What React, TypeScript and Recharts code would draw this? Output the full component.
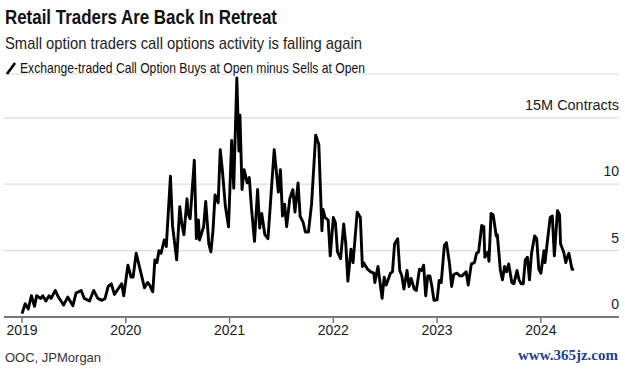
import React from 'react'
import { LineChart, Line, XAxis, YAxis, CartesianGrid } from 'recharts'

// weekly readings, decimal year -> million contracts (buys at open minus sells at open)
const years = [
  2019.0, 2019.03, 2019.06, 2019.09, 2019.12, 2019.14, 2019.18, 2019.2, 2019.23, 2019.26,
  2019.28, 2019.32, 2019.35, 2019.4, 2019.44, 2019.49, 2019.52, 2019.57, 2019.6, 2019.65,
  2019.69, 2019.73, 2019.77, 2019.8, 2019.83, 2019.86, 2019.89, 2019.96, 2019.98,
  2020.02, 2020.05, 2020.07, 2020.1, 2020.18, 2020.21, 2020.23, 2020.26, 2020.28, 2020.3,
  2020.32, 2020.34, 2020.37, 2020.39, 2020.43, 2020.45, 2020.49, 2020.52, 2020.54, 2020.56,
  2020.59, 2020.6, 2020.62, 2020.66, 2020.68, 2020.7, 2020.71, 2020.75, 2020.77, 2020.8,
  2020.82, 2020.84, 2020.86, 2020.89, 2020.91, 2020.93, 2020.96, 2020.99,
  2021.02, 2021.04, 2021.07, 2021.09, 2021.1, 2021.12, 2021.14, 2021.17, 2021.19, 2021.21,
  2021.24, 2021.27, 2021.29, 2021.31, 2021.34, 2021.37, 2021.43, 2021.47, 2021.49, 2021.51,
  2021.53, 2021.55, 2021.58, 2021.61, 2021.63, 2021.66, 2021.68, 2021.71, 2021.73, 2021.76,
  2021.79, 2021.83, 2021.86, 2021.89, 2021.9, 2021.92, 2021.95, 2021.97,
  2022.0, 2022.02, 2022.04, 2022.07, 2022.1, 2022.12, 2022.14, 2022.17, 2022.19, 2022.23,
  2022.26, 2022.28, 2022.29, 2022.33, 2022.36, 2022.39, 2022.4, 2022.43, 2022.47, 2022.49,
  2022.51, 2022.55, 2022.57, 2022.59, 2022.62, 2022.64, 2022.66, 2022.68, 2022.71, 2022.73,
  2022.75, 2022.78, 2022.8, 2022.83, 2022.85, 2022.87, 2022.89, 2022.91, 2022.93, 2022.95,
  2022.97,
  2023.0, 2023.02, 2023.04, 2023.07, 2023.09, 2023.12, 2023.14, 2023.16, 2023.19, 2023.22,
  2023.24, 2023.28, 2023.3, 2023.33, 2023.36, 2023.38, 2023.4, 2023.43, 2023.45, 2023.46,
  2023.49, 2023.5, 2023.52, 2023.54, 2023.57, 2023.58, 2023.61, 2023.63, 2023.65, 2023.67,
  2023.69, 2023.72, 2023.74, 2023.77, 2023.79, 2023.81, 2023.83, 2023.85, 2023.87, 2023.89,
  2023.91, 2023.94, 2023.96, 2023.98,
  2024.0, 2024.03, 2024.04, 2024.06, 2024.09, 2024.11, 2024.13, 2024.16, 2024.18, 2024.19,
  2024.22, 2024.24, 2024.25, 2024.27, 2024.3, 2024.32,
]

const contracts = [
  0.25, 1.0, 0.6, 1.6, 0.8, 1.6, 1.4, 1.6, 1.2, 1.6,
  1.4, 2.0, 1.5, 0.9, 1.5, 0.85, 1.8, 2.0, 1.4, 1.2,
  2.0, 1.4, 1.25, 1.4, 2.3, 2.5, 1.7, 2.5, 1.6,
  3.9, 3.0, 3.0, 4.8, 2.2, 2.6, 2.4, 1.9, 4.3, 4.1,
  5.0, 4.8, 5.8, 5.3, 10.6, 6.9, 4.3, 8.3, 7.0, 6.2,
  8.9, 7.8, 7.4, 11.8, 5.9, 7.3, 5.8, 6.8, 8.7, 5.5,
  4.9, 6.5, 9.2, 8.6, 12.6, 11.1, 8.3, 6.8,
  13.3, 9.7, 18.0, 12.5, 15.2, 9.6, 11.1, 10.1, 10.5, 8.3,
  5.7, 9.6, 6.7, 7.8, 6.2, 5.9, 12.6, 9.4, 11.1, 7.6,
  8.5, 6.8, 8.9, 9.6, 7.9, 10.1, 7.6, 7.1, 6.4, 6.4,
  8.5, 13.7, 13.0, 6.5, 8.1, 7.5, 7.3, 4.6,
  7.5, 7.1, 4.9, 4.4, 7.0, 5.5, 2.7, 5.1, 4.1, 7.9,
  7.5, 3.8, 4.1, 3.6, 3.4, 3.3, 2.6, 3.8, 1.4, 3.0,
  2.4, 3.3, 3.4, 5.5, 5.9, 3.5, 3.1, 2.1, 3.5, 2.3,
  2.9, 2.1, 2.0, 3.6, 3.5, 3.9, 1.6, 3.1, 3.1, 2.3,
  1.25,
  1.3, 2.75, 2.6, 5.4, 5.6, 4.0, 2.3, 3.2, 3.3, 3.1,
  3.1, 3.4, 2.4, 4.0, 4.1, 4.8, 4.9, 6.9, 6.8, 4.5,
  4.9, 4.2, 7.8, 7.7, 6.1, 6.2, 3.5, 2.8, 3.8, 3.4,
  4.0, 2.6, 2.5, 3.5, 2.8, 2.5, 2.5, 4.3, 4.5, 2.8,
  4.8, 6.1, 5.9, 3.6,
  3.3, 5.0, 4.1, 5.5, 7.5, 7.6, 4.6, 8.0, 7.7, 5.5,
  4.9, 4.1, 4.4, 4.8, 3.6, 3.6,
]

const yearTicks = [2019, 2020, 2021, 2022, 2023, 2024]
const valueTicks = [0, 5, 10, 15]

const data = years.map((t, i) => ({ t, v: contracts[i] }))

const FONT = "'Liberation Sans', Arial, sans-serif"

function ValueTick(props: any) {
  const { x, y, payload } = props
  const top = payload.value === 15
  return (
    <text
      x={x}
      y={y - 8}
      textAnchor="end"
      fill="#1a1a1a"
      fontSize={14}
      fontFamily={FONT}
      textLength={top ? 94 : undefined}
      lengthAdjust="spacingAndGlyphs"
    >
      {top ? '15M Contracts' : String(payload.value)}
    </text>
  )
}

export default function App() {
  return (
    <div style={{ position: 'absolute', left: 0, top: 0, width: 625, height: 378, background: '#fff' }}>
      <div style={{ position: 'absolute', left: 0, top: 0 }}>
        <LineChart width={625} height={378} data={data} margin={{ top: 74, right: 6, left: 4, bottom: 31 }}>
          <CartesianGrid vertical={false} stroke="#dcdcdc" strokeWidth={1.2} />
          <XAxis
            dataKey="t"
            type="number"
            domain={[2018.826, 2024.753]}
            ticks={yearTicks}
            tickFormatter={(v) => String(v)}
            axisLine={{ stroke: '#777', strokeWidth: 2 }}
            tickLine={{ stroke: '#777', strokeWidth: 1.5 }}
            tickSize={6}
            tick={{ fill: '#1a1a1a', fontSize: 14, fontFamily: FONT }}
            height={30}
            allowDataOverflow
          />
          <YAxis
            orientation="right"
            domain={[0, 18.3]}
            ticks={valueTicks}
            mirror
            width={1}
            tickSize={0}
            tickMargin={0}
            axisLine={false}
            tickLine={false}
            tick={(p: any) => <ValueTick {...p} />}
            allowDataOverflow
          />
          <Line
            dataKey="v"
            type="linear"
            stroke="#000"
            strokeWidth={2.9}
            strokeLinejoin="round"
            dot={false}
            isAnimationActive={false}
          />
        </LineChart>
      </div>

      <svg width={625} height={80} style={{ position: 'absolute', left: 0, top: 0 }} fontFamily={FONT}>
        <text x={5} y={24} fontSize={21} fontWeight={700} fill="#111" textLength={272} lengthAdjust="spacingAndGlyphs">
          Retail Traders Are Back In Retreat
        </text>
        <text x={5} y={49} fontSize={17} fill="#222" textLength={357} lengthAdjust="spacingAndGlyphs">
          Small option traders call options activity is falling again
        </text>
        <line x1={7} y1={74} x2={15} y2={63} stroke="#000" strokeWidth={2.6} />
        <text x={20} y={73} fontSize={14.5} fill="#111" textLength={345} lengthAdjust="spacingAndGlyphs">
          Exchange-traded Call Option Buys at Open minus Sells at Open
        </text>
      </svg>

      <div style={{ position: 'absolute', left: 5, top: 350, fontSize: 13, color: '#333', fontFamily: FONT }}>
        OOC, JPMorgan
      </div>
      <div
        style={{
          position: 'absolute',
          right: 7,
          top: 347,
          fontSize: 15,
          fontWeight: 700,
          color: '#1d3f8f',
          fontFamily: "'Liberation Serif', 'DejaVu Serif', serif",
          whiteSpace: 'nowrap',
        }}
      >
        www.365jz.com
      </div>
    </div>
  )
}
